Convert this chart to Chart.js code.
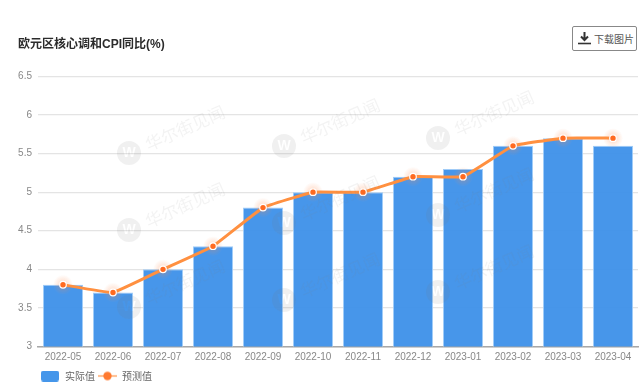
<!DOCTYPE html>
<html lang="zh">
<head>
<meta charset="utf-8">
<style>
html,body{margin:0;padding:0;background:#fff;width:640px;height:383px;overflow:hidden}
#wrap{position:relative;width:640px;height:383px}
canvas{position:absolute;left:0;top:0}
#dl{position:absolute;left:572px;top:26px;width:65px;height:25px;box-sizing:border-box;border:1px solid #888;border-radius:2px;background:#fff;color:#555;font:10px "Noto Sans CJK SC",sans-serif;line-height:23px;padding-left:21px;white-space:nowrap}
#dl svg{position:absolute;left:4px;top:4px}
</style>
<script src="https://cdn.jsdelivr.net/npm/chart.js@4/dist/chart.umd.js"></script>
</head>
<body>
<div id="wrap">
<canvas id="c" width="640" height="383"></canvas>
<div id="dl"><svg width="15" height="15" viewBox="0 0 15 15"><path d="M7.5 1v7M4 5.5 7.5 9 11 5.5" fill="none" stroke="#333" stroke-width="2"/><path d="M1 12.5h13" stroke="#333" stroke-width="1.6"/></svg>下载图片</div>
</div>
<script>
const categories = ['2022-05','2022-06','2022-07','2022-08','2022-09','2022-10','2022-11','2022-12','2023-01','2023-02','2023-03','2023-04'];
const actualValues = [3.8,3.7,4.0,4.3,4.8,5.0,5.0,5.2,5.3,5.6,5.7,5.6];
const forecastValues = [3.8,3.7,4.0,4.3,4.8,5.0,5.0,5.2,5.2,5.6,5.7,5.7];
const seriesNames = ['实际值','预测值'];
const chartTitle = '欧元区核心调和CPI同比(%)';
const watermarkText = '华尔街见闻';

const FONT = '"Liberation Sans","Noto Sans CJK SC",sans-serif';

function legendBarIcon(){
  const c=document.createElement('canvas');c.width=19;c.height=11;
  const x=c.getContext('2d');x.fillStyle='#4596ea';
  x.beginPath();x.roundRect(0,0,18,11,2.5);x.fill();return c;
}
function legendLineIcon(){
  const c=document.createElement('canvas');c.width=19;c.height=11;
  const x=c.getContext('2d');x.strokeStyle='#ff9040';x.lineWidth=1.2;
  x.beginPath();x.moveTo(0,5.5);x.lineTo(19,5.5);x.stroke();
  x.fillStyle='#ff7a30';x.beginPath();x.arc(9.5,5.5,4.2,0,Math.PI*2);x.fill();return c;
}
function logoStamp(){
  const c=document.createElement('canvas');c.width=26;c.height=26;
  const x=c.getContext('2d');
  x.fillStyle='rgba(120,120,120,0.11)';
  x.beginPath();x.arc(13,13,12,0,Math.PI*2);x.fill();
  x.globalCompositeOperation='destination-out';
  x.fillStyle='#000';x.font='bold 14px '+FONT;x.textAlign='center';x.textBaseline='middle';
  x.fillText('W',13,13.5);
  return c;
}

const placer = {
  id:'placer',
  afterLayout(chart){
    chart.legend.left = 38;
    chart.legend.right = 640;
    chart.legend.top = 368;
    chart.titleBlock.left = 18;
    const x = chart.scales.x;
    x.left = 38; x.right = 638; x.width = 600;
    x._margins = {left:0,right:0,top:0,bottom:0};
    x.configure();
    chart.chartArea.left = 38; chart.chartArea.right = 638; chart.chartArea.width = 600;
  }
};
const halo = {
  id:'halo',
  beforeDatasetDraw(chart,args){
    if(args.index!==1) return;
    const ctx=chart.ctx;
    ctx.save();
    args.meta.data.forEach(p=>{
      const g=ctx.createRadialGradient(p.x,p.y,3,p.x,p.y,10);
      g.addColorStop(0,'rgba(255,140,80,0.26)');
      g.addColorStop(1,'rgba(255,140,80,0)');
      ctx.fillStyle=g;ctx.beginPath();ctx.arc(p.x,p.y,10,0,Math.PI*2);ctx.fill();
    });
    ctx.restore();
  }
};
const watermark = {
  id:'watermark',
  afterDatasetsDraw(chart){
    const ctx=chart.ctx;
    const spots=[[129,153],[129,230],[129,307],[284,146],[284,223],[284,300],[438,138],[438,215],[438,292]];
    const stamp=logoStamp();
    ctx.save();
    spots.forEach(([x,y])=>{
      ctx.drawImage(stamp,x-13,y-13);
      ctx.save();
      ctx.translate(x+56,y-25);ctx.rotate(-24*Math.PI/180);
      ctx.fillStyle='rgba(120,120,120,0.09)';
      ctx.textAlign='center';ctx.textBaseline='middle';
      ctx.font='17px "Noto Sans CJK SC",sans-serif';
      ctx.fillText(watermarkText,0,0);
      ctx.restore();
    });
    ctx.restore();
  }
};

new Chart(document.getElementById('c'),{
  data:{
    labels:categories,
    datasets:[
      {type:'bar',label:seriesNames[0],data:actualValues,order:2,
       backgroundColor:'rgba(63,146,233,0.96)',borderColor:'rgba(150,198,247,0.9)',borderWidth:1,
       categoryPercentage:1,barPercentage:0.8},
      {type:'line',label:seriesNames[1],data:forecastValues,order:1,
       borderColor:'#ff9040',borderWidth:3,tension:0.08,
       pointRadius:3.3,pointBorderWidth:1.2,pointBackgroundColor:'#ff6a20',pointBorderColor:'#fff',
       borderCapStyle:'round',borderJoinStyle:'round'}
    ]
  },
  options:{
    responsive:false,animation:false,
    layout:{padding:{top:0,right:2,bottom:-8.5,left:0}},
    plugins:{
      title:{display:true,text:chartTitle,align:'start',color:'#2b2b2b',
        font:{family:FONT,size:12,weight:'bold'},padding:{top:37,bottom:25}},
      legend:{display:true,position:'bottom',align:'start',
        labels:{usePointStyle:true,pointStyleWidth:19,boxHeight:11,padding:3,color:'#666',
          font:{family:'"Noto Sans CJK SC",sans-serif',size:10},
          generateLabels(){
            return [
              {text:seriesNames[0],pointStyle:legendBarIcon(),fontColor:'#666',lineWidth:0,datasetIndex:0},
              {text:seriesNames[1],pointStyle:legendLineIcon(),fontColor:'#666',lineWidth:0,datasetIndex:1}
            ];
          }}},
      tooltip:{enabled:false}
    },
    scales:{
      x:{offset:true,
        grid:{display:false,drawTicks:false},
        border:{display:true,color:'#a8a8a8',width:1.5},
        ticks:{color:'#888',font:{family:FONT,size:10},padding:5,maxRotation:0,autoSkip:false}},
      y:{min:3,max:6.5,afterFit(s){s.width=38;},
        grid:{color:'#e4e4e4',lineWidth:1.3,drawTicks:false},
        border:{display:false},
        ticks:{stepSize:0.5,color:'#888',font:{family:FONT,size:10},padding:6,
          callback(v){return String(v);}}}
    }
  },
  plugins:[placer,halo,watermark]
});
</script>
</body>
</html>
